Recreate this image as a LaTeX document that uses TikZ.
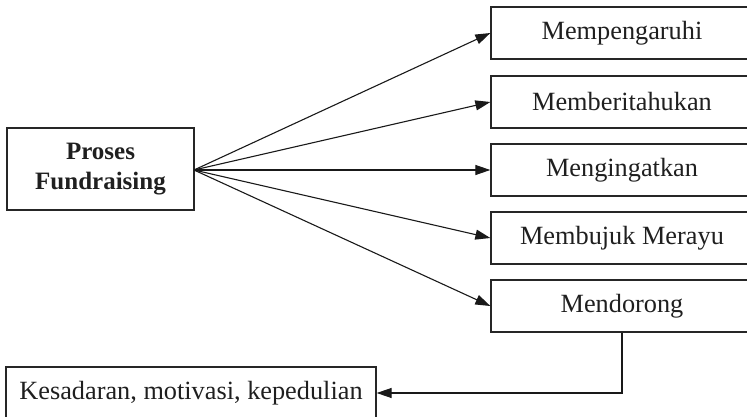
\documentclass[tikz,border=0pt]{standalone}
\usepackage{fontspec}
\setmainfont{Liberation Serif}
\usetikzlibrary{arrows.meta}
\begin{document}
\begin{tikzpicture}[x=1pt,y=1pt,
  box/.style={draw=black!85, line width=1.3pt, inner sep=0pt, text=black!88, font=\fontsize{26.3}{30}\selectfont},
  conn/.style={line width=1.1pt, draw=black!90, -{Triangle[length=15pt,width=10pt]}}]
\useasboundingbox (0,0) rectangle (747,416);
\clip (0,0) rectangle (747,416);
\node[box, minimum width=187pt, minimum height=82pt, align=center, font=\bfseries\fontsize{25}{30}\selectfont] (p) at (100.5,247) {Proses\\Fundraising};
\node[box, minimum width=262pt, minimum height=52pt] (b1) at (622,383) {Mempengaruhi};
\node[box, minimum width=262pt, minimum height=52pt] (b2) at (622,314) {Memberitahukan};
\node[box, minimum width=262pt, minimum height=52pt] (b3) at (622,246) {Mengingatkan};
\node[box, minimum width=262pt, minimum height=52pt] (b4) at (622,178) {Membujuk Merayu};
\node[box, minimum width=262pt, minimum height=52pt] (b5) at (622,110) {Mendorong};
\node[box, minimum width=370pt, minimum height=52pt] (k) at (191,23) {Kesadaran, motivasi, kepedulian};
\coordinate (src) at (194,246);
\foreach \b in {b1,b2,b3,b4,b5} \draw[conn] (src) -- (\b.west);
\draw[conn] (b5.south) |- (k.east);
\end{tikzpicture}
\end{document}
